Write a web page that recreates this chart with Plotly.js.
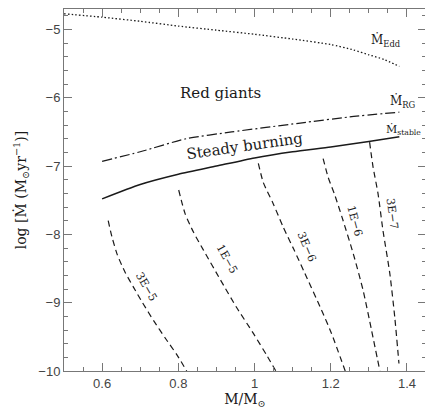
<!DOCTYPE html>
<html><head><meta charset="utf-8">
<script src="https://cdn.plot.ly/plotly-3.0.1.min.js"></script>
<style>html,body{margin:0;padding:0;overflow:hidden;background:#fff}</style>
</head><body><div id="chart"></div>
<script>
// Eddington limit
const eddX = [0.5, 0.6, 0.7, 0.8, 0.9, 1.0, 1.1, 1.2, 1.26, 1.3, 1.34, 1.38];
const eddY = [-4.77, -4.82, -4.88, -4.95, -5.01, -5.07, -5.14, -5.22, -5.30, -5.37, -5.44, -5.54];
// Red giant boundary
const rgX = [0.6, 0.7, 0.82, 0.94, 1.12, 1.25, 1.38];
const rgY = [-6.93, -6.79, -6.60, -6.50, -6.37, -6.28, -6.21];
// Stable burning
const stX = [0.6, 0.7, 0.8, 0.9, 1.0, 1.1, 1.2, 1.3, 1.38];
const stY = [-7.48, -7.27, -7.12, -7.0, -6.88, -6.79, -6.72, -6.64, -6.57];
// constant-ignition contours
const c3e5X = [0.616, 0.626, 0.640, 0.660, 0.683, 0.706, 0.736, 0.766, 0.796, 0.822];
const c3e5Y = [-7.80, -8.04, -8.30, -8.55, -8.78, -9.0, -9.27, -9.52, -9.76, -10];
const c1e5X = [0.801, 0.818, 0.84, 0.866, 0.91, 0.953, 0.997, 1.032, 1.056];
const c1e5Y = [-7.35, -7.70, -7.97, -8.23, -8.66, -9.07, -9.45, -9.77, -10];
const c3e6X = [1.010, 1.023, 1.049, 1.075, 1.104, 1.132, 1.176, 1.202, 1.238];
const c3e6Y = [-6.96, -7.24, -7.55, -7.89, -8.23, -8.57, -9.11, -9.45, -10];
const c1e6X = [1.180, 1.193, 1.211, 1.232, 1.259, 1.285, 1.307, 1.329];
const c1e6Y = [-6.89, -7.16, -7.43, -7.79, -8.28, -8.82, -9.40, -10];
const c3e7X = [1.302, 1.311, 1.324, 1.337, 1.355, 1.368, 1.379];
const c3e7Y = [-6.65, -7.01, -7.40, -7.94, -8.57, -9.21, -9.89];
const contourLabels = ['3E\u22125', '1E\u22125', '3E\u22126', '1E\u22126', '3E\u22127'];

const ink = '#1a1a1a';
const dashed = {color: ink, width: 1.2, dash: '6px,4px', shape: 'spline', smoothing: 0.6};
function tr(x, y, line) { return {x: x, y: y, mode: 'lines', line: line, hoverinfo: 'skip', showlegend: false}; }

const data = [
  tr(eddX, eddY, {color: ink, width: 1.3, dash: '1.5px,2.2px', shape: 'spline', smoothing: 0.6}),
  tr(rgX, rgY, {color: ink, width: 1.2, dash: '10px,3px,2px,3px', shape: 'spline', smoothing: 0.6}),
  tr(stX, stY, {color: ink, width: 1.5, shape: 'spline', smoothing: 0.6}),
  tr(c3e5X, c3e5Y, dashed),
  tr(c1e5X, c1e5Y, dashed),
  tr(c3e6X, c3e6Y, dashed),
  tr(c1e6X, c1e6Y, dashed),
  tr(c3e7X, c3e7Y, dashed)
];

const serif = 'DejaVu Serif, Liberation Serif, serif';
const txt = (x, y, t, o) => Object.assign({x: x, y: y, xref: 'x', yref: 'y', text: t, showarrow: false,
  font: {family: serif, size: 15, color: ink}}, o || {});

const labPos = [[0.716, -8.76, 60], [0.926, -8.36, 61], [1.136, -8.18, 67], [1.262, -7.80, 75], [1.360, -7.70, 82]];
const annotations = [
  txt(0.912, -5.936, 'Red giants'),
  txt(0.975, -6.71, 'Steady burning', {textangle: -8}),
  txt(1.300, -5.16, '\u1E40<sub>Edd</sub>', {xanchor: 'left', font: {family: serif, size: 12, color: ink}}),
  txt(1.350, -6.05, '\u1E40<sub>RG</sub>', {xanchor: 'left', font: {family: serif, size: 12, color: ink}}),
  txt(1.340, -6.46, '\u1E40<sub>stable</sub>', {xanchor: 'left', font: {family: serif, size: 11, color: ink}})
].concat(contourLabels.map((t, i) => txt(labPos[i][0], labPos[i][1], t,
  {textangle: labPos[i][2], font: {family: serif, size: 11, color: ink}})));

const axCommon = {
  showgrid: false, zeroline: false, showline: true, linecolor: '#777', linewidth: 1,
  mirror: 'ticks', ticks: 'inside', ticklen: 8, tickcolor: '#777', tickwidth: 1,
  tickfont: {family: 'Liberation Sans, Arial, sans-serif', size: 13, color: '#444'}
};

const layout = {
  width: 430, height: 409,
  margin: {l: 64, r: 3.6, t: 8.5, b: 38},
  paper_bgcolor: '#fff', plot_bgcolor: '#fff',
  xaxis: Object.assign({}, axCommon, {
    range: [0.5, 1.45], tick0: 0.6, dtick: 0.2,
    minor: {dtick: 0.05, ticklen: 4, tickcolor: '#777', ticks: 'inside'},
    title: {text: 'M/M<sub>\u2299</sub>', font: {family: serif, size: 14, color: ink}, standoff: 6}
  }),
  yaxis: Object.assign({}, axCommon, {
    range: [-10, -4.7], dtick: 1, tick0: -10,
    minor: {dtick: 0.2, ticklen: 4, tickcolor: '#777', ticks: 'inside'},
    title: {text: 'log [\u1E40 (M<sub>\u2299</sub>yr<sup>\u22121</sup>)]', font: {family: serif, size: 14, color: ink}, standoff: 8}
  }),
  annotations: annotations
};

Plotly.newPlot('chart', data, layout, {displayModeBar: false, staticPlot: true});
</script></body></html>
